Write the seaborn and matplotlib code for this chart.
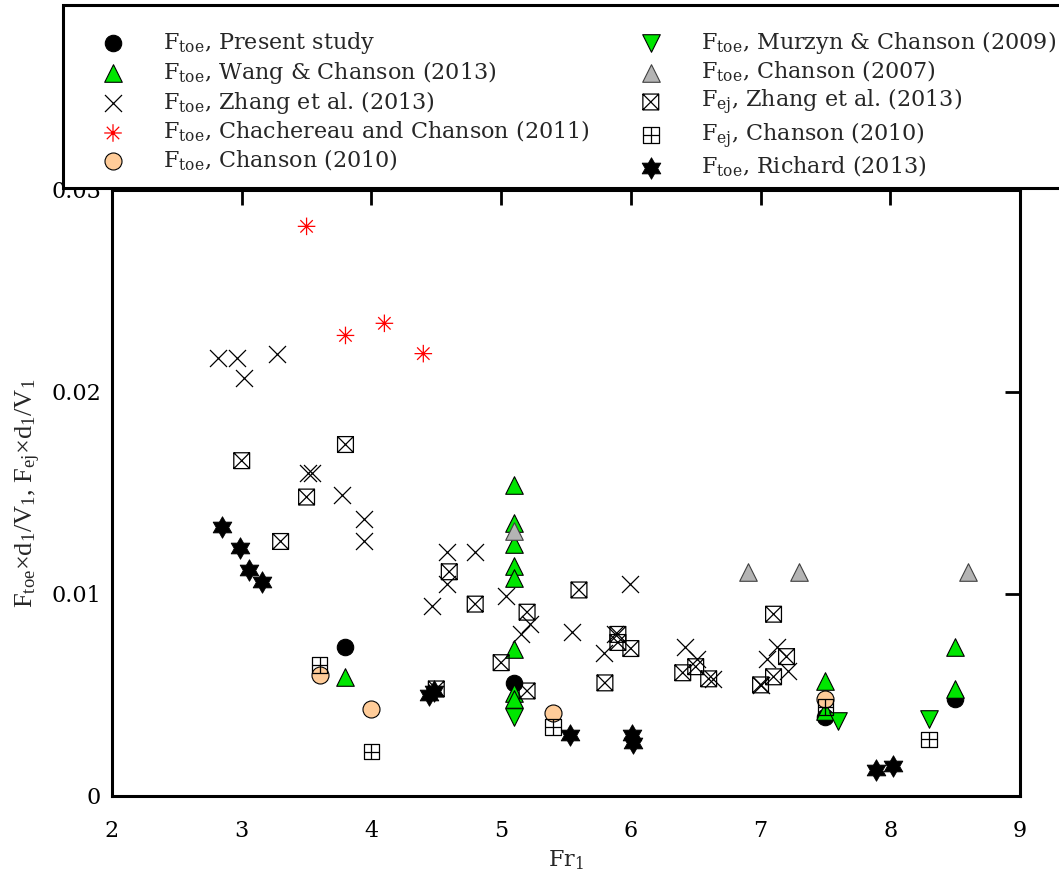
import numpy as np
import matplotlib
matplotlib.use("Agg")
import matplotlib.pyplot as plt
from matplotlib.path import Path
from matplotlib.patches import Rectangle
from matplotlib.font_manager import FontProperties
import seaborn as sns

# ---- data: Fr1 and dimensionless frequencies ----
present_x = [3.8, 5.1, 7.5, 8.5]
present_y = [0.0074, 0.0056, 0.0039, 0.0048]

wang_x = [3.8, 5.1, 5.1, 5.1, 5.1, 5.1, 5.1, 5.1, 5.1, 7.5, 7.5, 8.5, 8.5]
wang_y = [0.0059, 0.0154, 0.0135, 0.0125, 0.0114, 0.0108, 0.0073, 0.0051, 0.0048,
          0.0057, 0.0042, 0.0074, 0.0053]

zhang_toe_x = [2.82, 2.96, 3.02, 3.27, 3.51, 3.54, 3.77, 3.94, 3.94, 4.58, 4.80, 4.58,
               4.47, 5.04, 5.15, 5.22, 5.55, 5.99, 5.79, 5.88, 6.42, 6.51, 6.63, 7.05,
               7.13, 7.21, 7.00]
zhang_toe_y = [0.0217, 0.0217, 0.0207, 0.0219, 0.0160, 0.0160, 0.0149, 0.0137, 0.0126,
               0.0121, 0.0121, 0.0105, 0.0094, 0.0099, 0.0080, 0.0085, 0.0081, 0.0105,
               0.0071, 0.0080, 0.0074, 0.0068, 0.0058, 0.0068, 0.0074, 0.0062, 0.0055]

chach_x = [3.5, 3.8, 4.1, 4.4]
chach_y = [0.0282, 0.0228, 0.0234, 0.0219]

chanson10_x = [3.6, 4.0, 5.4, 7.5]
chanson10_y = [0.0060, 0.0043, 0.0041, 0.0048]

murzyn_x = [5.1, 7.6, 8.3]
murzyn_y = [0.0039, 0.0037, 0.0038]

chanson07_x = [5.1, 6.9, 7.3, 8.6]
chanson07_y = [0.0131, 0.0111, 0.0111, 0.0111]

zhang_ej_x = [3.0, 3.5, 3.8, 3.3, 4.6, 4.5, 4.8, 5.0, 5.2, 5.2, 5.6, 5.8, 5.9, 5.9,
              6.0, 6.4, 6.5, 6.6, 7.0, 7.1, 7.2, 7.1]
zhang_ej_y = [0.0166, 0.0148, 0.0174, 0.0126, 0.0111, 0.0053, 0.0095, 0.0066, 0.0091,
              0.0052, 0.0102, 0.0056, 0.0080, 0.0076, 0.0073, 0.0061, 0.0064, 0.0058,
              0.0055, 0.0059, 0.0069, 0.0090]

chanson10_ej_x = [3.6, 4.0, 5.4, 7.5, 8.3]
chanson10_ej_y = [0.0065, 0.0022, 0.0034, 0.0044, 0.0028]

richard_x = [2.85, 2.99, 3.06, 3.16, 4.44, 4.48, 5.53, 6.01, 6.02, 7.89, 8.02]
richard_y = [0.0133, 0.0123, 0.0112, 0.0106, 0.0050, 0.0052, 0.0030, 0.0030, 0.0026,
             0.0013, 0.0015]

x_ticks = [2, 3, 4, 5, 6, 7, 8, 9]
y_ticks = [0, 0.01, 0.02, 0.03]
y_tick_labels = ["0", "0.01", "0.02", "0.03"]

# ---- custom marker shapes ----
M, L, C = Path.MOVETO, Path.LINETO, Path.CLOSEPOLY
boxed_x = Path([(-1, -1), (1, -1), (1, 1), (-1, 1), (-1, -1),
                (-1, -1), (1, 1), (-1, 1), (1, -1)],
               [M, L, L, L, C, M, L, M, L])
boxed_plus = Path([(-1, -1), (1, -1), (1, 1), (-1, 1), (-1, -1),
                   (0, -1), (0, 1), (-1, 0), (1, 0)],
                  [M, L, L, L, C, M, L, M, L])
d = 0.7071
asterisk = Path([(-1, 0), (1, 0), (0, -1), (0, 1), (-d, -d), (d, d), (-d, d), (d, -d)],
                [M, L, M, L, M, L, M, L])
hexagram = Path.unit_regular_star(6, 0.577)

# ---- style ----
sns.set_style("white")
plt.rcParams["font.family"] = ["DejaVu Serif"]
plt.rcParams["mathtext.fontset"] = "dejavuserif"
plt.rcParams["mathtext.rm"] = "Liberation Serif"
plt.rcParams["mathtext.it"] = "Liberation Serif:italic"
plt.rcParams["mathtext.bf"] = "Liberation Serif:bold"

fig = plt.figure(figsize=(10.59, 8.75), dpi=100)
ax = fig.add_axes([112 / 1059, 1 - 796 / 875, (1020 - 112) / 1059, (796 - 190) / 875])

GREEN = "#00e600"
FS = 16

series = [
    dict(x=present_x, y=present_y, marker="o", s=140, facecolor="black",
         edgecolor="black", linewidth=0.8, label=r"F$_{\rm toe}$, Present study"),
    dict(x=wang_x, y=wang_y, marker="^", s=160, facecolor=GREEN,
         edgecolor="black", linewidth=0.8, label=r"F$_{\rm toe}$, Wang & Chanson (2013)"),
    dict(x=zhang_toe_x, y=zhang_toe_y, marker="x", s=150, color="black",
         linewidth=0.9, label=r"F$_{\rm toe}$, Zhang et al. (2013)"),
    dict(x=chach_x, y=chach_y, marker=asterisk, s=160, facecolor="none",
         edgecolor="red", linewidth=0.9,
         label=r"F$_{\rm toe}$, Chachereau and Chanson (2011)"),
    dict(x=chanson10_x, y=chanson10_y, marker="o", s=150, facecolor="#ffcc99",
         edgecolor="black", linewidth=0.8, label=r"F$_{\rm toe}$, Chanson (2010)"),
    dict(x=murzyn_x, y=murzyn_y, marker="v", s=160, facecolor=GREEN,
         edgecolor="black", linewidth=0.8, label=r"F$_{\rm toe}$, Murzyn & Chanson (2009)"),
    dict(x=chanson07_x, y=chanson07_y, marker="^", s=160, facecolor="#b4b4b4",
         edgecolor="#404040", linewidth=0.8, label=r"F$_{\rm toe}$, Chanson (2007)"),
    dict(x=zhang_ej_x, y=zhang_ej_y, marker=boxed_x, s=130, facecolor="none",
         edgecolor="black", linewidth=0.9, label=r"F$_{\rm ej}$, Zhang et al. (2013)"),
    dict(x=chanson10_ej_x, y=chanson10_ej_y, marker=boxed_plus, s=130, facecolor="none",
         edgecolor="black", linewidth=0.9, label=r"F$_{\rm ej}$, Chanson (2010)"),
    dict(x=richard_x, y=richard_y, marker=hexagram, s=240, facecolor="black",
         edgecolor="black", linewidth=0.6, label=r"F$_{\rm toe}$, Richard (2013)"),
]

for i, kw in enumerate(series):
    kw = dict(kw)
    x = kw.pop("x")
    y = kw.pop("y")
    sns.scatterplot(x=x, y=y, ax=ax, legend=False, zorder=3 + i * 0.1, **kw)

ax.set_xlim(2, 9)
ax.set_ylim(0, 0.03)
ax.set_xticks(x_ticks)
ax.set_xticklabels([str(t) for t in x_ticks])
ax.set_yticks(y_ticks)
ax.set_yticklabels(y_tick_labels)
for sp in ax.spines.values():
    sp.set_linewidth(2.2)
    sp.set_color("black")
ax.tick_params(direction="in", length=11, width=2, top=True, right=True,
               labelsize=FS, colors="black")
ax.tick_params(axis="x", pad=17)
ax.tick_params(axis="y", pad=8)

ax.set_xlabel(r"Fr$_1$", fontsize=FS, labelpad=5)

# y label in a Times-style face
with plt.rc_context({"font.family": ["Liberation Serif", "DejaVu Serif"],
                     "mathtext.fontset": "custom"}):
    ylab_font = FontProperties()
ylab_font.set_size(19)
ax.set_ylabel(r"F$_{\rm toe}$×d$_1$/V$_1$, F$_{\rm ej}$×d$_1$/V$_1$", labelpad=6)
ax.yaxis.label.set_fontproperties(ylab_font)

# legend box spanning the top of the figure
box = Rectangle((63 / 1059, 1 - 188 / 875), (1068 - 63) / 1059, (188 - 5) / 875,
                transform=fig.transFigure, facecolor="white", edgecolor="black",
                linewidth=2.2, zorder=9, clip_on=False)
fig.add_artist(box)

handles, labels = ax.get_legend_handles_labels()
leg = fig.legend(handles, labels, ncol=2, loc="upper left",
                 bbox_to_anchor=(63 / 1059, 1 - 10 / 875), fontsize=FS,
                 frameon=False, borderpad=0.85, labelspacing=0.14,
                 handlelength=2.8, handletextpad=0.85, columnspacing=1.35,
                 borderaxespad=0.0, scatterpoints=1)
leg.set_zorder(10)

fig.savefig("out.png", dpi=100)
